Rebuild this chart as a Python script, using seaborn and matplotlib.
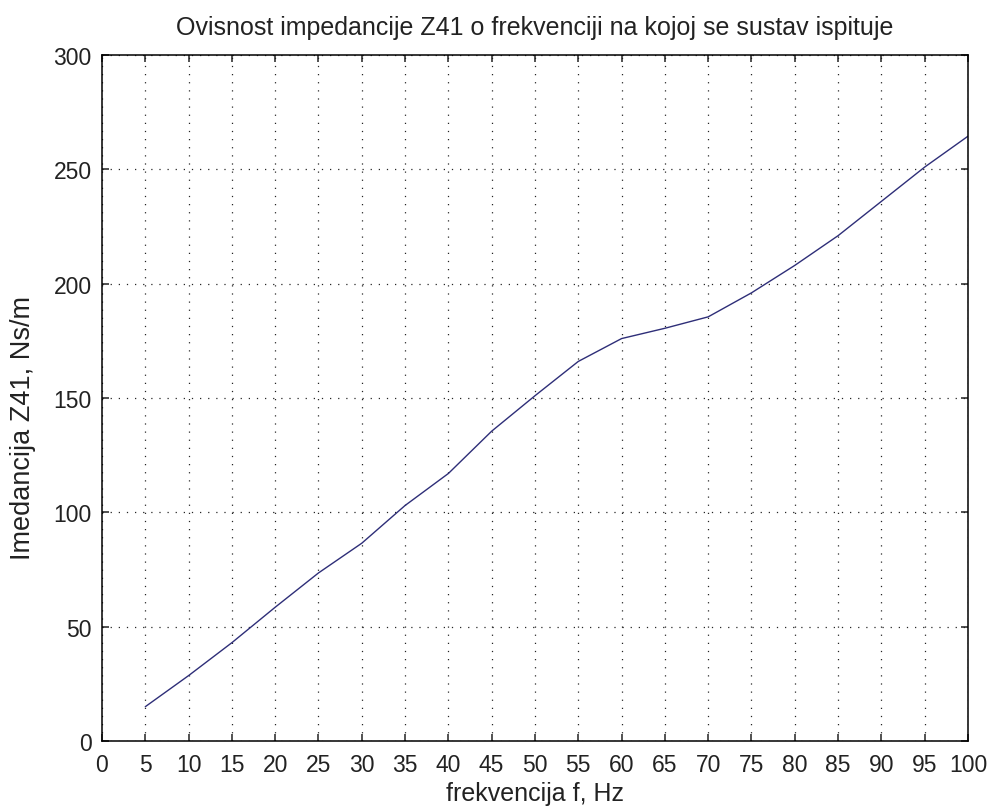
import matplotlib
matplotlib.use("Agg")
import matplotlib.pyplot as plt
import seaborn as sns
import pandas as pd

# Impedance Z41 measured at each test frequency
frequency_hz = [5, 10, 15, 20, 25, 30, 35, 40, 45, 50,
                55, 60, 65, 70, 75, 80, 85, 90, 95, 100]
impedance_z41 = [15.0, 28.6, 43.0, 58.5, 73.5, 86.5, 103.0, 117.0, 135.5, 151.0,
                 166.0, 176.0, 180.5, 185.5, 196.0, 208.0, 221.0, 236.0, 251.0, 264.5]

x_ticks = list(range(0, 101, 5))
y_ticks = list(range(0, 301, 50))

title_text = "Ovisnost impedancije Z41 o frekvenciji na kojoj se sustav ispituje"
x_label = "frekvencija f, Hz"
y_label = "Imedancija Z41, Ns/m"

df = pd.DataFrame({"f": frequency_hz, "Z": impedance_z41})

sns.set_theme(style="white")
plt.rcParams["font.family"] = ["Liberation Sans", "DejaVu Sans"]

fig = plt.figure(figsize=(9.92, 8.12), dpi=100)
fig.patch.set_facecolor("white")
ax = fig.add_axes([0.1028, 0.0862, 0.873, 0.8448])

sns.lineplot(data=df, x="f", y="Z", ax=ax, color="#2e2e78", linewidth=1.0)

ax.set_xlim(0, 100)
ax.set_ylim(0, 300)
ax.set_xticks(x_ticks)
ax.set_yticks(y_ticks)
ax.set_xticklabels([str(t) for t in x_ticks])
ax.set_yticklabels([str(t) for t in y_ticks])

ax.grid(True, color="black", linestyle=(0, (1, 5.5)), linewidth=0.9, alpha=0.85)
ax.set_axisbelow(True)

for side in ("left", "right", "top", "bottom"):
    ax.spines[side].set_visible(True)
    ax.spines[side].set_color("black")
    ax.spines[side].set_linewidth(1.1)

ax.tick_params(axis="both", which="major", direction="in", length=5, width=1.1,
               colors="#222222", labelsize=16.5, top=True, right=True,
               bottom=True, left=True)
ax.tick_params(axis="x", pad=8.5)
ax.tick_params(axis="y", pad=7.5)

ax.set_title(title_text, fontsize=18, color="#222222", pad=15)
ax.set_xlabel(x_label, fontsize=18, color="#222222")
ax.set_ylabel(y_label, fontsize=19.5, color="#222222")
ax.xaxis.set_label_coords(0.5, -0.058)
ax.yaxis.set_label_coords(-0.076, 0.458)

fig.savefig("out.png", dpi=100, facecolor="white")
